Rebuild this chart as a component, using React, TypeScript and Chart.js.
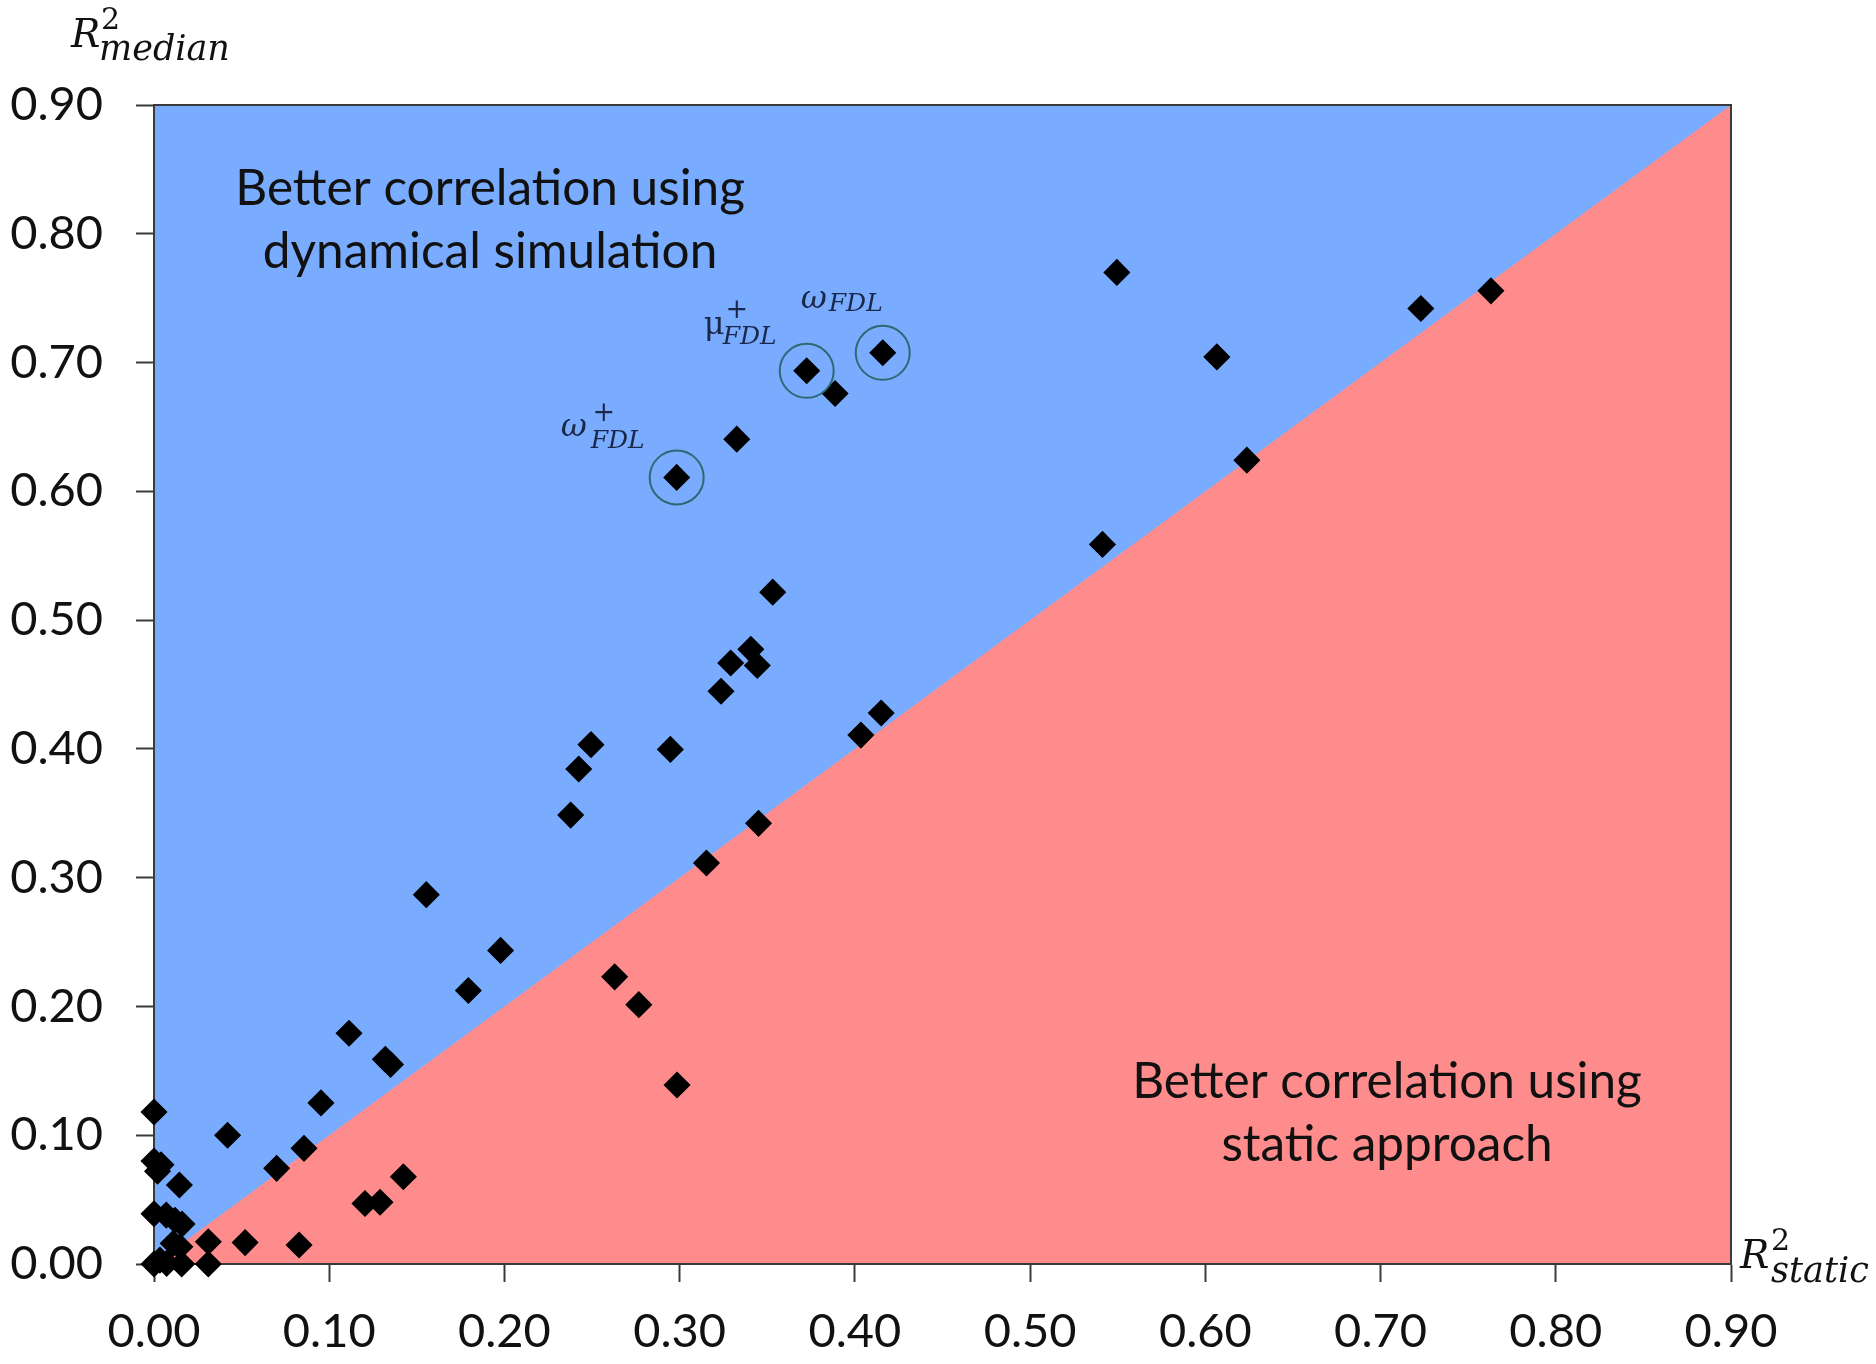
import React, { useEffect, useRef } from 'react';
import { Chart, registerables } from 'chart.js';

Chart.register(...registerables);

// ---- data ----
const staticR2 = [
  0.5495, 0.6066, 0.723, 0.763, 0.6237, 0.5413,
  0.4159, 0.3725, 0.3887, 0.3326, 0.2983,
  0.3531, 0.3406, 0.3291, 0.3443, 0.3236, 0.415, 0.4034, 0.2494, 0.2424,
  0.2947, 0.2378, 0.345, 0.3153, 0.1554, 0.1978, 0.1794, 0.2629, 0.2767,
  0.1113, 0.132, 0.135, 0.2985, 0.0953,
  0.0, 0.042, 0.0856, 0.07, 0.1423, 0.1204, 0.129, 0.052, 0.0828, 0.031,
  0.031, 0.0, 0.004, 0.002, 0.0145, 0.0, 0.007, 0.012, 0.016,
  0.0, 0.0034, 0.011, 0.0148, 0.0158, 0.0072,
];
const medianR2 = [
  0.77, 0.7044, 0.742, 0.7557, 0.6242, 0.5588,
  0.7076, 0.6936, 0.676, 0.6405, 0.6108,
  0.5217, 0.4773, 0.4667, 0.4648, 0.4448, 0.4279, 0.4107, 0.4033, 0.3844,
  0.3996, 0.3486, 0.3422, 0.3114, 0.2868, 0.2435, 0.2124, 0.223, 0.2014,
  0.1792, 0.159, 0.155, 0.139, 0.1251,
  0.118, 0.1, 0.0898, 0.0743, 0.0678, 0.047, 0.048, 0.0166, 0.0148, 0.0173,
  0.0, 0.08, 0.077, 0.072, 0.0613, 0.039, 0.038, 0.034, 0.031,
  0.0, 0.003, 0.016, 0.0134, 0.0, 0.0005,
];

// highlighted (circled) indicators
const labeledStatic = [0.2983, 0.3725, 0.4159];
const labeledMedian = [0.6108, 0.6936, 0.7076];
const labeledSymbol = ['ω', 'μ', 'ω'];
const labeledSup = ['+', '+', ''];
const labeledSub = ['FDL', 'FDL', 'FDL'];

const axisMin = 0;
const axisMax = 0.9;
const tickStep = 0.1;

const regionLines = [
  ['Better correlation using', 'dynamical simulation'],
  ['Better correlation using', 'static approach'],
];
const regionAnchorX = [0.1918, 0.7037];
const regionAnchorY = [0.822, 0.1286];

// ---- style ----
const BLUE = '#79acff';
const RED = '#ff8c8c';
const AXIS = '#3a3a3a';
const TEXT = '#111111';
const LABEL = '#1b2748';
const CIRCLE = '#2c6a72';
const SERIF = '"DejaVu Serif"';
const LINE_GAP = 63;

// pixel offsets of the label pieces relative to their circled point
const labelLayout = [
  { sym: [-116, -41], sup: [-73, -56], sub: [-86, -29] },
  { sym: [-103, -37], sup: [-70, -53], sub: [-84, -27] },
  { sym: [-82, -45], sup: [0, 0], sub: [-54, -42] },
];

const overlayPlugin = {
  id: 'overlay',
  beforeDraw(chart: any) {
    const { ctx, chartArea: a, scales } = chart;
    const x = scales.x;
    const y = scales.y;
    ctx.save();
    ctx.fillStyle = BLUE;
    ctx.fillRect(a.left, a.top, a.right - a.left, a.bottom - a.top);
    ctx.beginPath();
    ctx.moveTo(x.getPixelForValue(axisMin), y.getPixelForValue(axisMin));
    ctx.lineTo(x.getPixelForValue(axisMax), y.getPixelForValue(axisMax));
    ctx.lineTo(x.getPixelForValue(axisMax), y.getPixelForValue(axisMin));
    ctx.closePath();
    ctx.fillStyle = RED;
    ctx.fill();
    ctx.restore();
  },
  beforeDatasetsDraw(chart: any) {
    const { ctx, chartArea: a } = chart;
    ctx.save();
    ctx.strokeStyle = AXIS;
    ctx.lineWidth = 2;
    ctx.strokeRect(a.left, a.top, a.right - a.left, a.bottom - a.top);
    ctx.restore();
  },
  afterDatasetsDraw(chart: any) {
    const { ctx, chartArea: a, scales } = chart;
    const x = scales.x;
    const y = scales.y;
    ctx.save();
    // region texts
    ctx.fillStyle = TEXT;
    ctx.font = '49.5px Lato';
    ctx.textAlign = 'center';
    ctx.textBaseline = 'alphabetic';
    regionLines.forEach((lines, i) => {
      const px = x.getPixelForValue(regionAnchorX[i]);
      const py = y.getPixelForValue(regionAnchorY[i]);
      lines.forEach((t, j) => ctx.fillText(t, px, py + j * LINE_GAP));
    });

    // indicator labels
    ctx.fillStyle = LABEL;
    labeledStatic.forEach((sx, i) => {
      const px = x.getPixelForValue(sx);
      const py = y.getPixelForValue(labeledMedian[i]);
      const L = labelLayout[i];
      ctx.textAlign = 'left';
      ctx.font = labeledSymbol[i] === 'μ' ? `32px ${SERIF}` : `italic 32px ${SERIF}`;
      ctx.fillText(labeledSymbol[i], px + L.sym[0], py + L.sym[1]);
      ctx.font = `italic 25px ${SERIF}`;
      ctx.fillText(labeledSub[i], px + L.sub[0], py + L.sub[1]);
      if (labeledSup[i]) {
        ctx.textAlign = 'center';
        ctx.font = `27px ${SERIF}`;
        ctx.fillText(labeledSup[i], px + L.sup[0], py + L.sup[1]);
      }
    });

    // axis titles
    ctx.fillStyle = TEXT;
    ctx.textAlign = 'left';
    // R^2_median
    ctx.font = `italic 39px ${SERIF}`;
    ctx.fillText('R', a.left - 83, a.top - 58);
    ctx.font = `30px ${SERIF}`;
    ctx.fillText('2', a.left - 53, a.top - 76);
    ctx.font = `italic 35px ${SERIF}`;
    ctx.fillText('median', a.left - 55, a.top - 45);
    // R^2_static
    ctx.font = `italic 39px ${SERIF}`;
    ctx.fillText('R', a.right + 9, a.bottom + 4);
    ctx.font = `30px ${SERIF}`;
    ctx.fillText('2', a.right + 40, a.bottom - 14);
    ctx.font = `italic 35px ${SERIF}`;
    ctx.fillText('static', a.right + 40, a.bottom + 18);
    ctx.restore();
  },
};

export default function App() {
  const ref = useRef<HTMLCanvasElement>(null);

  useEffect(() => {
    if (!ref.current) return;
    const tickFont = { family: 'Lato', size: 47 };
    const axisCommon = {
      type: 'linear' as const,
      min: axisMin,
      max: axisMax,
      border: { display: true, color: AXIS, width: 2 },
      grid: {
        display: true,
        drawOnChartArea: false,
        drawTicks: true,
        tickLength: 18,
        tickColor: AXIS,
        tickWidth: 2,
        color: AXIS,
      },
    };
    const chart = new Chart(ref.current, {
      type: 'scatter',
      data: {
        datasets: [
          {
            label: 'circled',
            data: labeledStatic.map((v, i) => ({ x: v, y: labeledMedian[i] })),
            pointStyle: 'circle',
            pointRadius: 27,
            borderWidth: 2,
            borderColor: CIRCLE,
            backgroundColor: 'rgba(0,0,0,0)',
            clip: false as any,
          },
          {
            label: 'indicators',
            data: staticR2.map((v, i) => ({ x: v, y: medianR2[i] })),
            pointStyle: 'rectRot',
            pointRadius: 12.5,
            borderWidth: 1.5,
            borderColor: '#000000',
            backgroundColor: '#000000',
            clip: false as any,
          },
        ],
      },
      options: {
        animation: false,
        responsive: false,
        devicePixelRatio: 1,
        events: [],
        layout: { padding: { top: 105, right: 145, left: 0, bottom: 0 } },
        plugins: { legend: { display: false }, tooltip: { enabled: false } },
        scales: {
          x: {
            ...axisCommon,
            position: 'bottom',
            afterFit: (s: any) => {
              s.height = 100;
            },
            ticks: {
              stepSize: tickStep,
              autoSkip: false,
              maxRotation: 0,
              padding: 22,
              color: TEXT,
              font: tickFont,
              callback: (v: any) => Number(v).toFixed(2),
            },
          },
          y: {
            ...axisCommon,
            position: 'left',
            afterFit: (s: any) => {
              s.width = 154;
            },
            ticks: {
              stepSize: tickStep,
              autoSkip: false,
              padding: 33,
              color: TEXT,
              font: tickFont,
              callback: (v: any) => Number(v).toFixed(2),
            },
          },
        },
      },
      plugins: [overlayPlugin],
    } as any);

    const fonts = (document as any).fonts;
    if (fonts && fonts.load) {
      Promise.all([
        fonts.load('47px Lato'),
        fonts.load(`italic 35px ${SERIF}`),
        fonts.load(`30px ${SERIF}`),
      ])
        .then(() => chart.update())
        .catch(() => {});
    }
    return () => chart.destroy();
  }, []);

  return (
    <div style={{ position: 'fixed', left: 0, top: 0, width: 1876, height: 1364, background: '#ffffff' }}>
      <canvas ref={ref} width={1876} height={1364} style={{ display: 'block', width: 1876, height: 1364 }} />
    </div>
  );
}
